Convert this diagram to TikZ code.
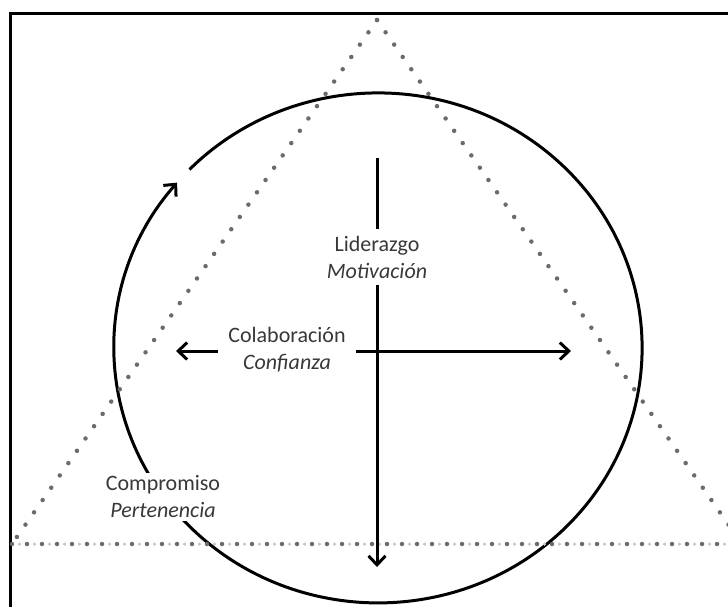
\documentclass[tikz,border=0pt]{standalone}
\usepackage{fontspec}
\setmainfont{Carlito}
\usetikzlibrary{arrows.meta}
\begin{document}
\begin{tikzpicture}[x=1pt,y=-1pt,
  lbl/.style={text=black!78,font=\fontsize{22}{27}\selectfont,align=center,inner xsep=10pt,inner ysep=7pt},
  plain/.style={line width=3pt,black},
  arr/.style={line width=3pt,black,-{Straight Barb[length=9pt,width=17pt]}},
  dotsdark/.style={draw=black!58,line width=4.5pt,line cap=round,dash pattern=on 0pt off 15pt},
  dotslight/.style={draw=black!22,line width=3.5pt,line cap=round,dash pattern=on 0pt off 15pt,dash phase=7.5pt},
  frame/.style={line width=3pt,black}]
\useasboundingbox (0,0) rectangle (728,606);
\clip (0,0) rectangle (728,606);
\draw[frame] (10,640) -- (10,13) -- (760,13);
% ring
\coordinate (ringstart) at (189.5,169.5);
\draw[arr] (ringstart) arc[start angle=-135.6,end angle=220.4,x radius=264,y radius=255];
% labels
\node[lbl] (lid) at (377,257) {Liderazgo\\\textit{Motivación}};
\node[lbl] (col) at (287,350) {Colaboración\\\textit{Confianza}};
\node[lbl,fill=white,inner ysep=3pt] (com) at (163,497) {Compromiso\\\textit{Pertenencia}};
% triangle
\coordinate (A) at (377,20);
\coordinate (B) at (12,544);
\coordinate (C) at (742,544);
\draw[dotslight] (B) -- (C);
\draw[dotsdark] (A) -- (B);
\draw[dotsdark] (A) -- (C);
\draw[dotsdark] (B) -- (C);
% axes
\coordinate (vtop) at (377,158);
\coordinate (vbot) at (377,567);
\coordinate (hl) at (176,351);
\coordinate (hr) at (571,351);
\draw[plain] (vtop) -- (lid.north);
\draw[arr] (lid.south) -- (vbot);
\draw[arr] (col.west |- hl) -- (hl);
\draw[arr] (col.east |- hr) -- (hr);
\end{tikzpicture}
\end{document}
